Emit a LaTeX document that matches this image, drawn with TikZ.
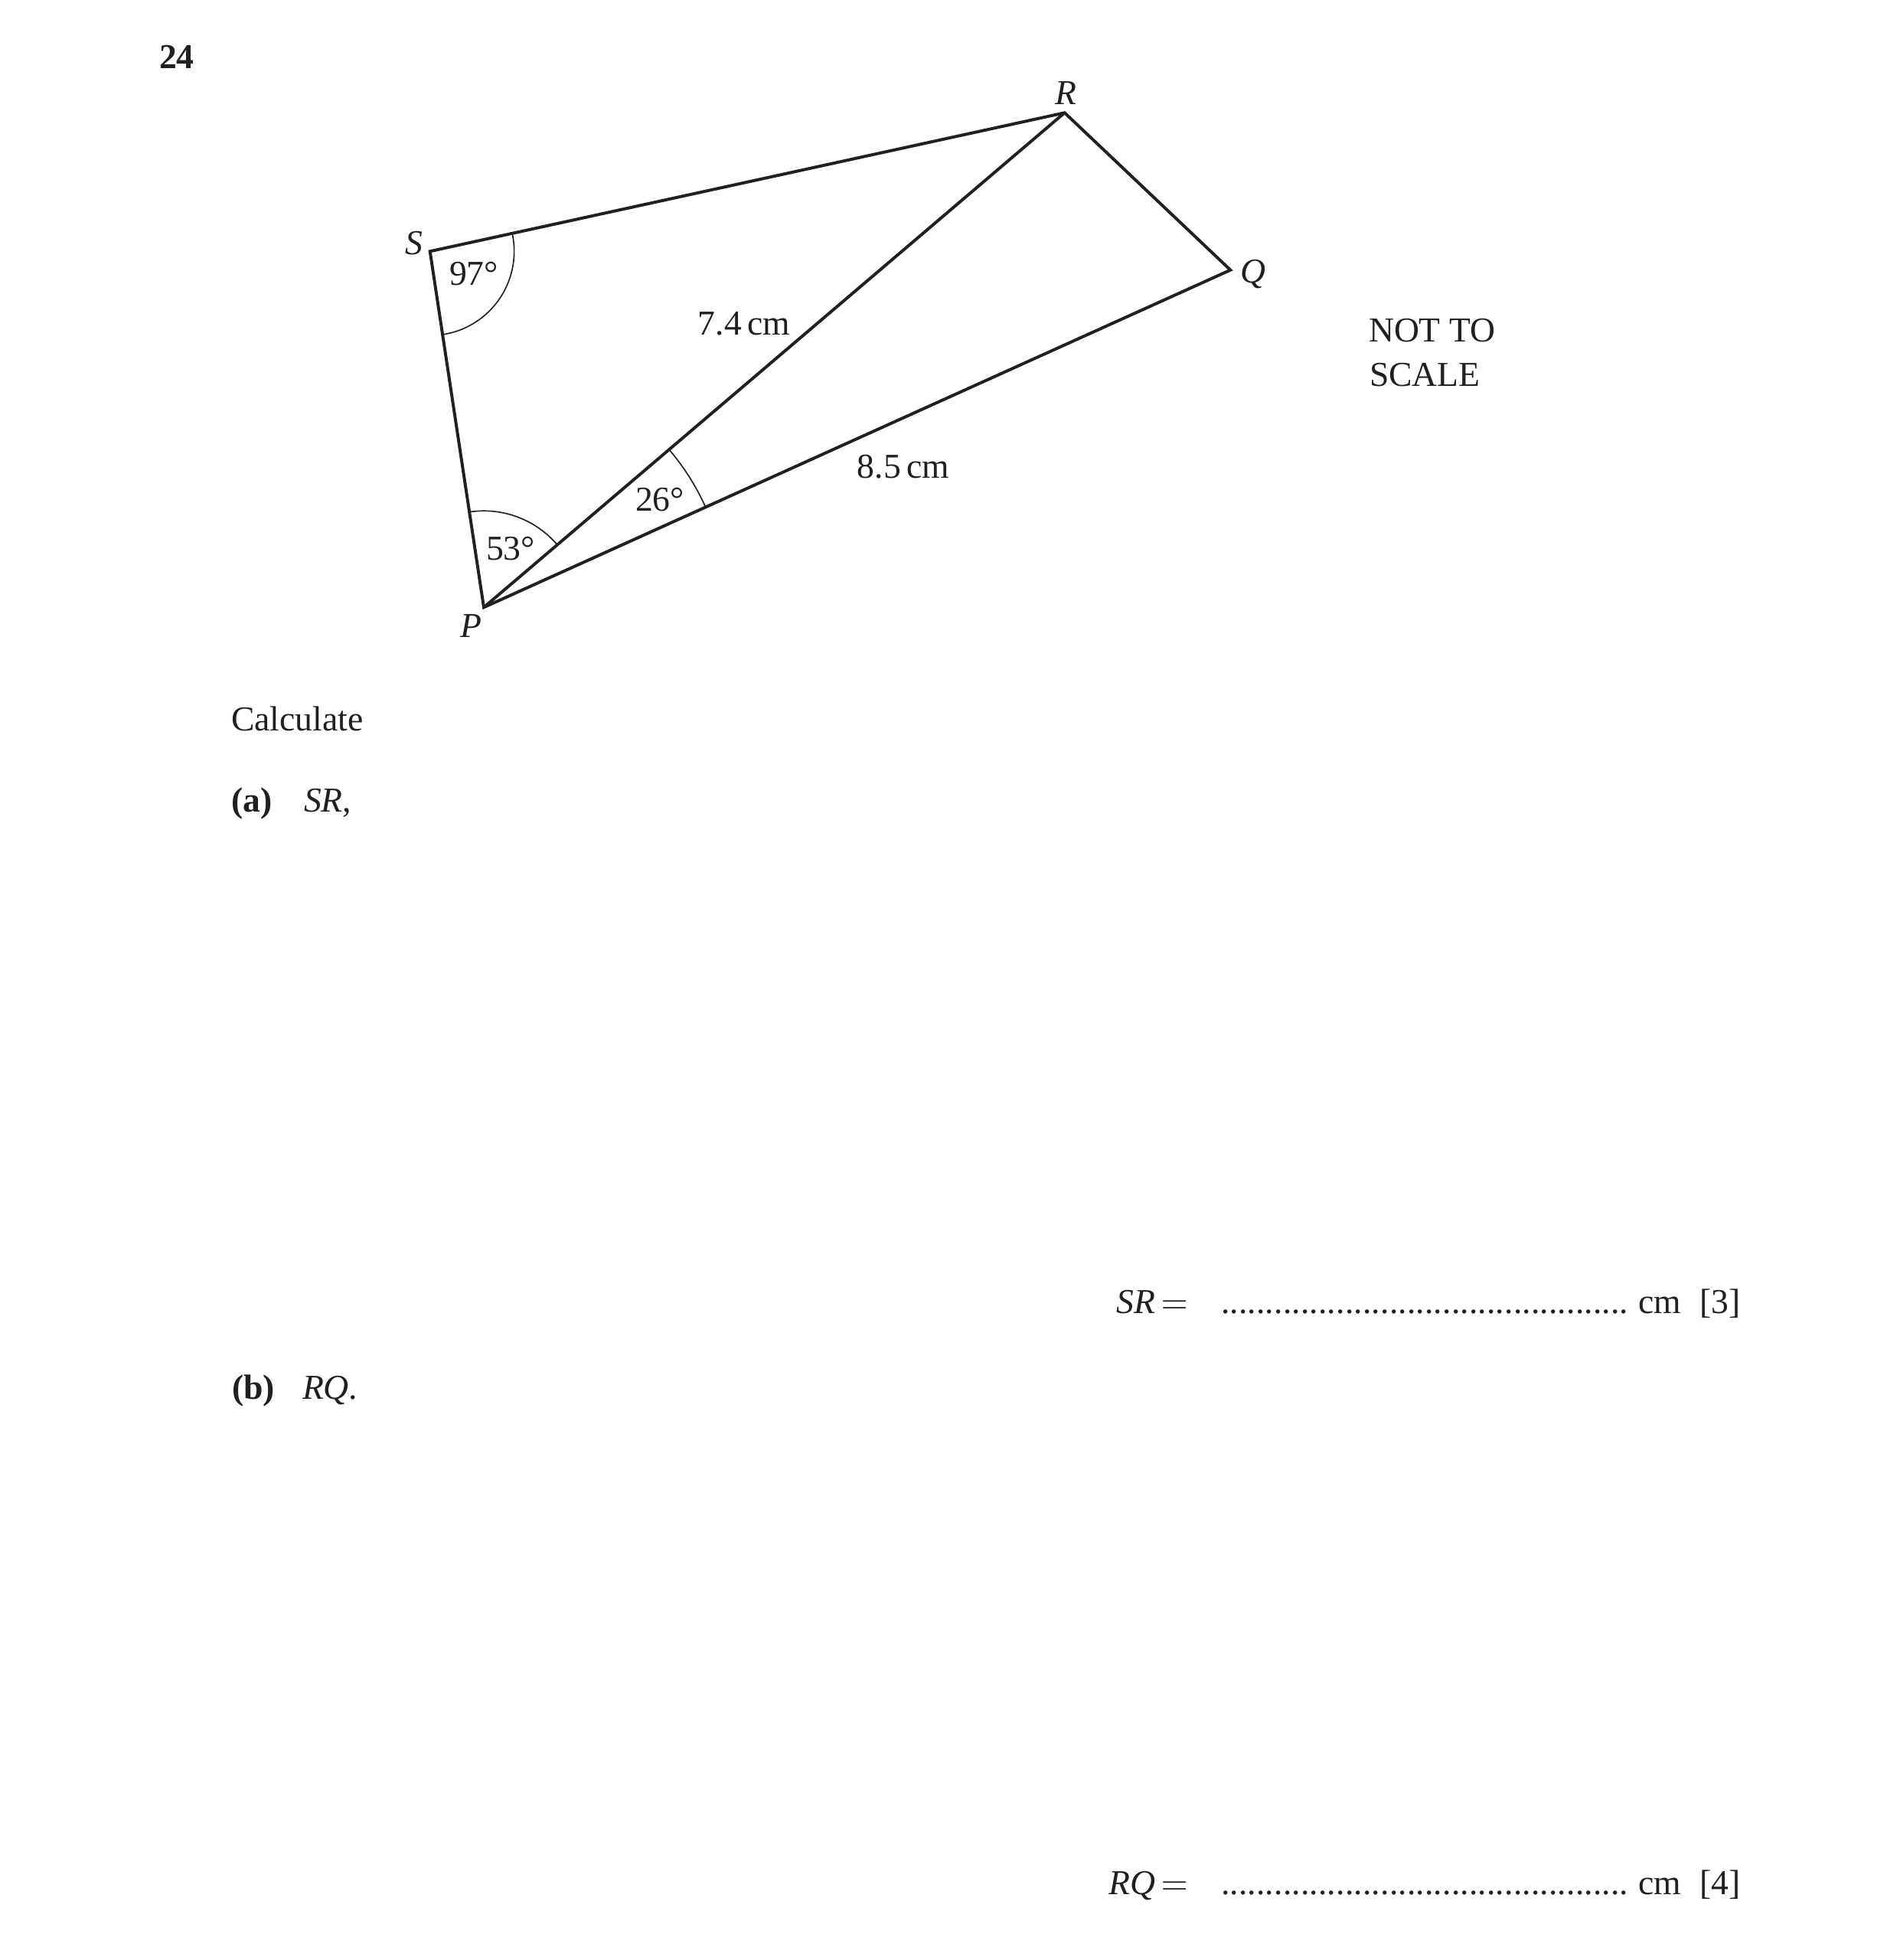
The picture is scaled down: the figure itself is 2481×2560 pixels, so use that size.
\documentclass[tikz,border=0pt]{standalone}
\usepackage{fontspec}
\setmainfont{Liberation Serif}
\usetikzlibrary{angles,calc}
\definecolor{ink}{RGB}{35,31,32}
\tikzset{
  edge/.style={draw=ink,line width=0.95pt,line join=miter},
  anglemark/.style={draw=ink,line width=0.4pt},
  lbl/.style={inner sep=0pt,outer sep=0pt,text=ink,font=\fontsize{11}{13}\selectfont},
}
\newcommand{\dotrule}{\makebox[45.2mm][l]{\leaders\hbox to 0.98mm{\hss.\hss}\hfill}}
\begin{document}
\begin{tikzpicture}[x=0.084667mm,y=-0.084667mm]
\path[use as bounding box] (0,0) rectangle (2481,2560);
% vertices
\coordinate (S) at (561.7,328.3);
\coordinate (R) at (1390.7,147.3);
\coordinate (Q) at (1607.3,352.7);
\coordinate (P) at (632,793.3);
% angle arcs
\pic[anglemark,angle radius=9.31mm] {angle=P--S--R};
\pic[anglemark,angle radius=10.67mm] {angle=R--P--S};
\pic[anglemark,angle radius=26.92mm] {angle=Q--P--R};
% edges
\draw[edge] (S) -- (R) -- (Q) -- (P) -- cycle;
\draw[edge] (P) -- (R);
% vertex labels
\node[lbl,anchor=base,font=\fontsize{11}{13}\selectfont\itshape] (lR) at (1392,137) {R};
\node[lbl,anchor=base,font=\fontsize{11}{13}\selectfont\itshape] (lQ) at (1637,370) {Q};
\node[lbl,anchor=base,font=\fontsize{11}{13}\selectfont\itshape] (lS) at (541,333) {S};
\node[lbl,anchor=base,font=\fontsize{11}{13}\selectfont\itshape] (lP) at (615,833) {P};
% angle / length labels
\node[lbl,anchor=base] (a97) at (619,373) {97°};
\node[lbl,anchor=base] (a53) at (667,732) {53°};
\node[lbl,anchor=base] (a26) at (862,668) {26°};
\node[lbl,anchor=base] (l74) at (972,438) {7.4\,cm};
\node[lbl,anchor=base] (l85) at (1180,625) {8.5\,cm};
\node[lbl,anchor=base west] (nts1) at (1788,447) {NOT TO};
\node[lbl,anchor=base west] (nts2) at (1789,505) {SCALE};
% question text
\node[lbl,anchor=base west,font=\fontsize{11}{13}\selectfont\bfseries] (num) at (208,90) {24};
\node[lbl,anchor=base west] (calc) at (302,955) {Calculate};
\node[lbl,anchor=base west,font=\fontsize{11}{13}\selectfont\bfseries] (pa) at (302,1061) {(a)};
\node[lbl,anchor=base west] (pat) at (397,1061) {\textit{SR},};
\node[lbl,anchor=base west,font=\fontsize{11}{13}\selectfont\bfseries] (pb) at (303,1827) {(b)};
\node[lbl,anchor=base west] (pbt) at (395,1827) {\textit{RQ}.};
% answer lines
\node[lbl,anchor=base east] (sr) at (1552,1715) {\textit{SR}\,$=$};
\node[lbl,anchor=base west] (srd) at (1595,1715) {\dotrule};
\node[lbl,anchor=base west] (src) at (2140,1715) {cm\hspace{6pt}[3]};
\node[lbl,anchor=base east] (rq) at (1552,2474) {\textit{RQ}\,$=$};
\node[lbl,anchor=base west] (rqd) at (1595,2474) {\dotrule};
\node[lbl,anchor=base west] (rqc) at (2140,2474) {cm\hspace{6pt}[4]};
\end{tikzpicture}
\end{document}
